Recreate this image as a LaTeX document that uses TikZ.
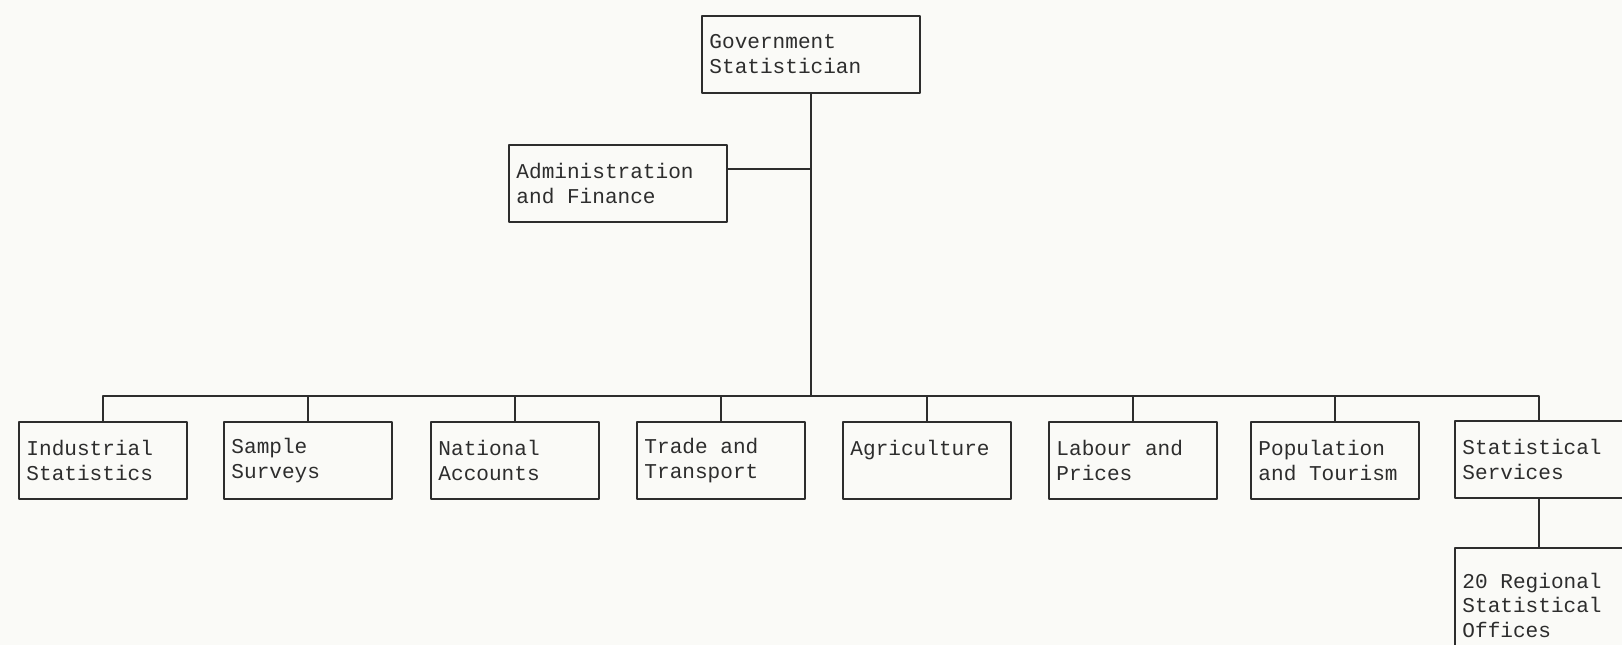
\documentclass[tikz,border=0pt]{standalone}
\usepackage{fontspec}
\setmonofont{Liberation Mono}
\definecolor{paper}{RGB}{250,250,247}
\definecolor{ink}{RGB}{45,45,45}
\tikzset{
	unit/.style={draw=ink, text=ink, line width=1.1pt, anchor=north west,
		inner xsep=0.15cm, text width=3.06cm, minimum height=1.54cm,
		font=\ttfamily\fontsize{12}{14.2}\selectfont,
		execute at begin node={\spaceskip=0.6em\xspaceskip=0.6em\relax}},
	wideunit/.style={unit, text width=4.06cm},
	link/.style={draw=ink, line width=1.1pt}
}
\begin{document}
\begin{tikzpicture}[x=0.02cm,y=-0.02cm,line join=round,line cap=round]
	\fill[paper] (0,0) rectangle (1622,645);
	\useasboundingbox (0,0) rectangle (1622,645);
	\clip (0,0) rectangle (1622,645);
	% top of the chart
	\node[wideunit] (gov) at (701,15) {Government\\Statistician};
	\node[wideunit] (admin) at (508,144) {Administration\\and Finance};
	\coordinate (bus) at (gov.south |- 0,396);
	% divisions
	\node[unit] (ind) at (18,421) {Industrial\\Statistics};
	\node[unit] (samp) at (223,421) {Sample\\Surveys};
	\node[unit] (nat) at (430,421) {National\\Accounts};
	\node[unit] (trade) at (636,421) {Trade and\\Transport};
	\node[unit] (agri) at (842,421) {Agriculture\\\mbox{}};
	\node[unit] (lab) at (1048,421) {Labour and\\Prices};
	\node[unit] (pop) at (1250,421) {Population\\and Tourism};
	\node[unit] (serv) at (1454,420) {Statistical\\Services};
	\node[unit, minimum height=2.3cm] (reg) at (1454,547) {20 Regional\\Statistical\\Offices};
	% connectors
	\coordinate (adm) at ([yshift=0.28cm]admin.east);
	\draw[link] (adm) -- (adm -| bus);
	\draw[link] (gov.south) -- (bus);
	\draw[link] (ind.north) |- (bus);
	\draw[link] (serv.north) |- (bus);
	\draw[link] (samp.north) -- (samp.north |- bus);
	\draw[link] (nat.north) -- (nat.north |- bus);
	\draw[link] (trade.north) -- (trade.north |- bus);
	\draw[link] (agri.north) -- (agri.north |- bus);
	\draw[link] (lab.north) -- (lab.north |- bus);
	\draw[link] (pop.north) -- (pop.north |- bus);
	\draw[link] (serv.south) -- (reg.north);
\end{tikzpicture}
\end{document}
